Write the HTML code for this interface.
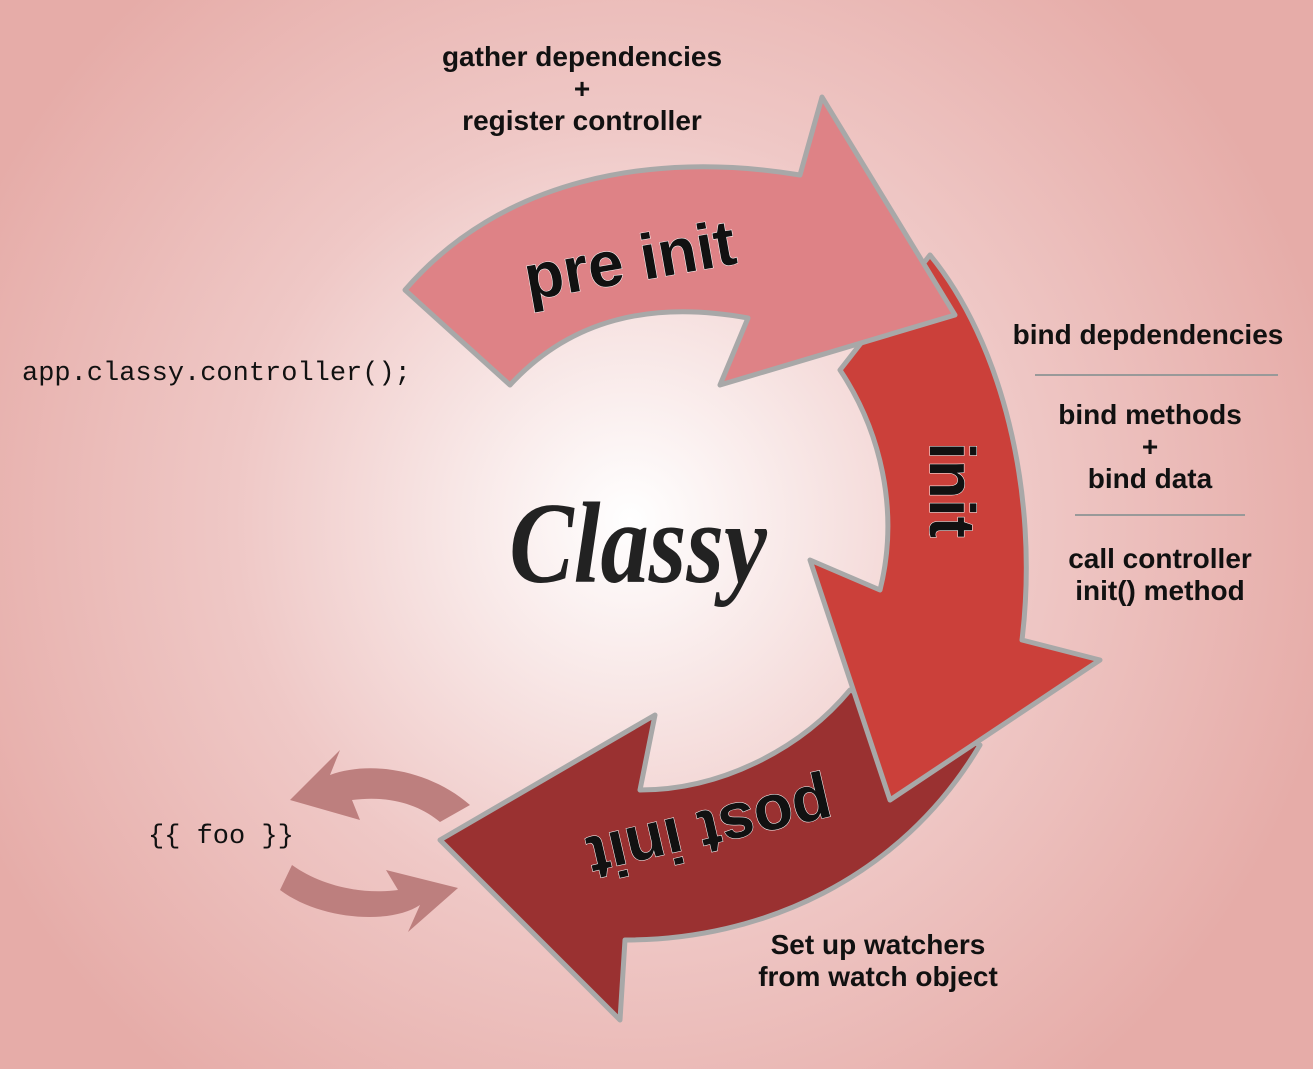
<!DOCTYPE html>
<html><head><meta charset="utf-8"><style>
html,body{margin:0;padding:0;}
body{width:1313px;height:1069px;overflow:hidden;}
</style></head><body>
<svg width="1313" height="1069" viewBox="0 0 1313 1069" xmlns="http://www.w3.org/2000/svg">
<defs>
<radialGradient id="bg" cx="630" cy="520" r="720" gradientUnits="userSpaceOnUse">
<stop offset="0" stop-color="#ffffff"/>
<stop offset="0.55" stop-color="#efc8c6"/>
<stop offset="1" stop-color="#e6aca8"/>
</radialGradient>
</defs>
<rect width="1313" height="1069" fill="url(#bg)"/>

<path d="M470,805 C430,770 370,760 330,775 L340,750 L290,800 L360,820 L352,800 C390,795 420,805 440,822 Z" fill="#bd7f7e"/>
<path d="M280,890 C320,920 390,925 420,905 L408,932 L458,888 L386,870 L398,890 C360,895 320,885 292,865 Z" fill="#bd7f7e"/>

<g stroke="#a8a8a8" stroke-width="5" stroke-linejoin="round">
<path d="M980,745 C900,880 760,940 625,940 L620,1020 L440,840 L655,715 L640,790 C720,790 800,750 850,690 Z" fill="#9a3131"/>
<path d="M930,255 C1000,340 1040,490 1022,640 L1100,660 L890,800 L810,560 L880,590 C900,510 880,430 840,370 Z" fill="#cb403a"/>
<path d="M405,290 C500,180 650,150 800,175 L822,97 L955,315 L720,385 L748,318 C650,300 570,320 510,385 Z" fill="#de8286"/>
</g>

<g font-family="Liberation Sans, sans-serif" font-weight="bold" fill="#111" stroke="#fff" stroke-width="1" paint-order="stroke">
<text x="630" y="282" font-size="64" text-anchor="middle" transform="rotate(-10 630 262)">pre init</text>
<text x="950" y="510" font-size="64" text-anchor="middle" transform="rotate(90 950 490)">init</text>
<text x="710" y="850" font-size="64" text-anchor="middle" transform="rotate(167 710 830)">post init</text>
</g>

<text x="0" y="0" font-family="Liberation Serif, serif" font-style="italic" font-weight="bold" font-size="105" text-anchor="middle" fill="#222" transform="translate(638 582) scale(0.92 1.1)">Classy</text>

<g font-family="Liberation Sans, sans-serif" font-weight="bold" font-size="28" fill="#111" text-anchor="middle">
<text x="582" y="66">gather dependencies</text>
<text x="582" y="98">+</text>
<text x="582" y="130">register controller</text>
<text x="1148" y="344">bind depdendencies</text>
<text x="1150" y="424">bind methods</text>
<text x="1150" y="456">+</text>
<text x="1150" y="488">bind data</text>
<text x="1160" y="568">call controller</text>
<text x="1160" y="600">init() method</text>
<text x="878" y="954">Set up watchers</text>
<text x="878" y="986">from watch object</text>
</g>
<line x1="1035" y1="375" x2="1278" y2="375" stroke="#999" stroke-width="2"/>
<line x1="1075" y1="515" x2="1245" y2="515" stroke="#999" stroke-width="2"/>
<g font-family="Liberation Mono, monospace" font-size="27" fill="#111">
<text x="22" y="380">app.classy.controller();</text>
<text x="148" y="843">{{ foo }}</text>
</g>
</svg>
</body></html>
